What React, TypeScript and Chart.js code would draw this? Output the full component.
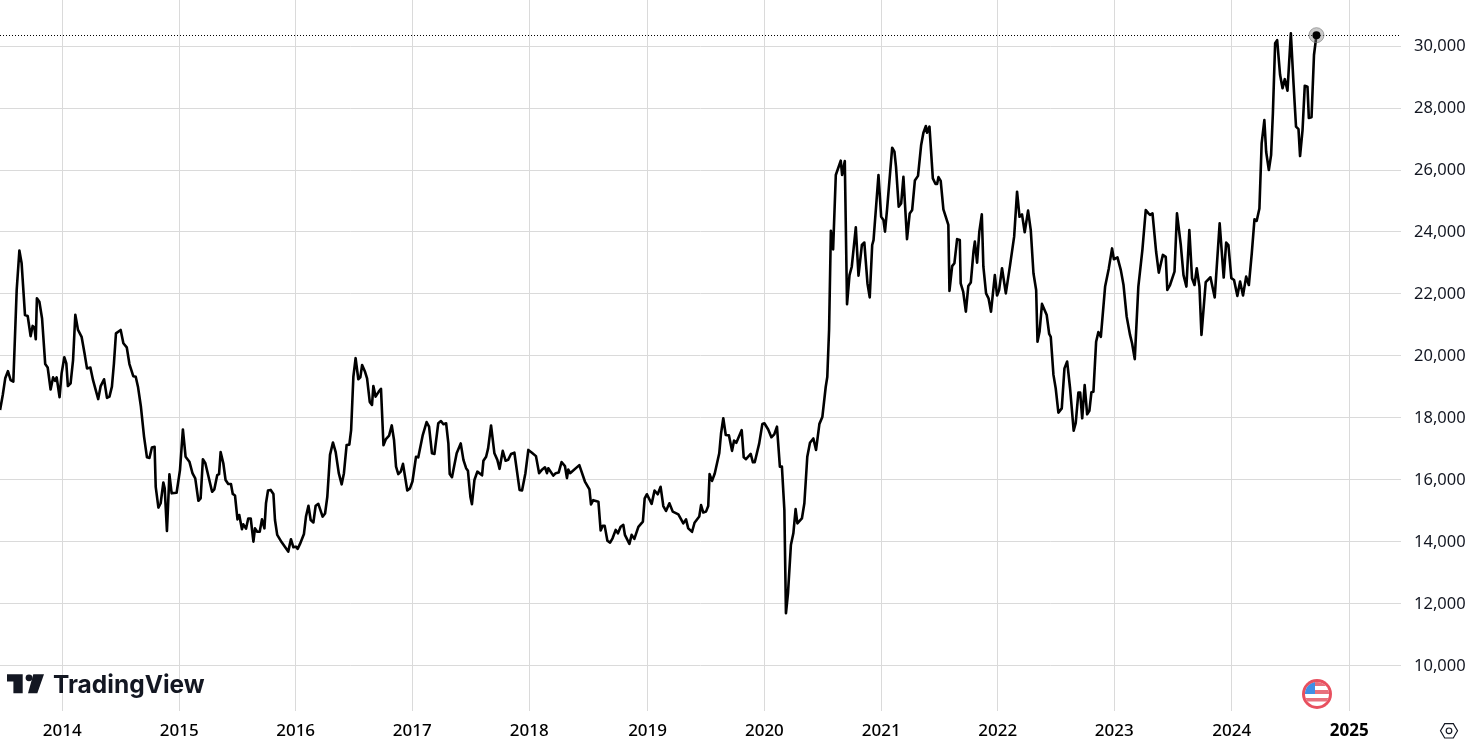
import { useEffect, useRef } from "react"
import { Chart, registerables } from "chart.js"

Chart.register(...registerables)

const bars = [
  0.3, 1.5, 2.6, 3.8, 5.0, 6.2, 7.7, 8.9, 9.9, 11.4, 12.6, 13.9, 14.8, 15.6, 16.2, 16.7, 17.8, 19.0, 20.4, 21.5,
  22.8, 23.9, 24.8, 25.5, 26.8, 27.7, 28.9, 29.8, 30.5, 31.7, 32.8, 33.8, 35.0, 36.6, 37.9, 39.0, 40.5, 41.7, 42.9, 44.0,
  45.1, 46.6, 47.9, 49.0, 50.1, 51.0, 51.9, 54.0, 55.2, 56.7, 57.9, 59.6, 60.7, 61.7, 63.0, 64.4, 65.7, 66.8, 67.9, 69.1,
  69.6, 70.8, 71.8, 73.0, 73.6, 74.6, 75.7, 76.7, 78.9, 80.4, 81.7, 82.9, 84.6, 86.0, 87.2, 88.6, 89.6, 90.6, 91.7, 94.7,
  95.7, 97.0, 97.8, 98.5, 99.7, 100.7, 101.9, 103.1, 103.9, 104.9, 106.0, 106.8, 108.0, 108.6, 109.8, 110.8, 111.9, 113.1, 113.8, 114.8,
  115.9, 116.9, 118.0, 118.7, 119.6, 120.8, 122.0, 122.7, 123.7, 125.7, 128.6, 129.8, 130.9, 132.0, 132.8, 133.8,
  135.6, 136.5, 137.6, 138.6, 139.8, 140.8, 142.0, 143.9, 145.0, 146.0, 147.2, 148.5, 149.7, 151.1, 152.4, 153.4, 154.6, 155.8, 156.6, 157.6,
  158.6, 159.8, 160.7, 161.5, 162.8, 163.7, 164.9, 165.9, 166.5, 167.5, 168.9, 169.9, 171.0, 172.1, 173.5, 174.7, 175.7, 176.6, 177.6, 178.7,
  179.7, 181.6, 182.8, 183.9, 185.5, 186.5, 188.5, 190.2, 191.3, 192.6, 193.7, 195.4, 196.6, 197.7, 198.9, 199.9, 200.5, 201.5, 203.6, 205.4,
  206.6, 207.8, 208.6, 209.7, 210.4, 211.5, 212.8, 214.9, 215.5, 216.7, 217.6, 218.9, 220.4, 221.7, 222.7, 224.1, 225.4, 226.5, 227.8, 229.3,
  231.6, 232.7, 234.2, 235.5, 237.1, 238.9, 240.3, 241.7, 242.9, 243.8, 244.4, 246.6, 247.7, 249.0, 250.3, 251.8, 252.7, 253.3, 254.1, 258.2,
  260.7, 262.7, 263.4, 264.4, 266.7, 267.7, 268.6, 269.5, 270.7, 271.9, 273.0, 274.4, 275.4, 276.6, 277.8, 278.5, 280.5, 281.5, 282.7, 284.5,
  286.5, 287.3, 288.3, 290.4, 291.7, 293.1, 294.4, 295.6, 296.8, 298.3, 299.8, 302.3, 304.5, 305.7, 306.7, 308.4, 309.5, 311.6, 312.4, 313.4,
  314.6, 315.6, 316.2, 317.3, 318.5, 320.5, 321.3, 322.3, 323.4, 324.8, 326.2, 327.1, 328.1, 330.5, 331.4, 332.4, 334.5, 335.5, 336.3, 338.3,
  339.7, 340.6, 342.3, 343.7, 345.0, 346.2, 347.5, 348.4, 349.5, 350.2, 351.1, 352.4, 353.5, 354.5, 355.3, 357.3, 358.4, 359.7, 360.9, 362.4,
  363.6, 365.1, 366.4, 367.9, 368.6,
  369.4, 370.2, 371.2, 372.4, 374.6, 375.2, 376.4, 377.4, 378.5, 379.5, 381.3, 382.5, 384.0, 385.1, 386.5, 387.5, 388.6, 389.2, 391.4, 392.6,
  393.6, 394.3, 395.2, 397.5, 398.5, 399.2, 400.4, 401.5, 402.5, 404.1, 405.3, 406.4, 407.6, 409.0, 410.4, 411.4, 412.5, 413.0, 414.1, 415.6,
  416.8, 417.5, 418.1, 419.1, 420.3, 422.5, 423.0, 424.2, 425.2, 426.4, 427.6, 428.0, 429.1, 430.3, 431.4, 432.5, 433.7, 434.3, 435.3, 436.3,
  437.4, 438.1, 439.3, 440.4, 441.5, 443.2, 444.2, 445.1, 446.4, 448.1, 450.0,
  451.8, 453.1, 454.2, 455.3, 456.5, 458.0, 459.2, 460.4, 461.6, 462.2, 463.1, 464.2, 466.3, 467.4, 468.1, 469.3, 470.3, 471.5, 473.0, 474.2,
  475.4, 476.7, 478.3, 479.2, 480.4, 481.2, 482.1, 483.2, 484.3, 485.3, 486.2, 487.1, 488.3, 489.3, 490.4, 492.3, 493.9, 495.4, 496.2, 497.8,
  499.3, 500.5, 501.9, 503.4, 504.3, 505.5, 507.1, 508.9, 510.4, 511.6, 512.3, 513.4, 515.0, 516.2, 518.0, 519.3, 520.0, 521.2, 523.2, 524.3,
  526.0, 527.2, 528.5, 529.8, 531.0, 532.1, 533.1, 534.3, 535.2, 537.1, 539.2, 541.1, 543.3, 545.1, 546.2, 547.2, 548.5, 549.7, 551.2, 552.4,
  553.7, 555.1, 556.3,
  557.6, 558.8, 559.8, 561.0, 562.0, 563.2, 564.0, 565.2, 566.2, 567.0, 568.0, 568.9, 570.2, 571.3, 572.3, 573.5, 575.0, 576.1, 577.3, 578.4,
  579.1, 580.2, 581.2, 582.4, 583.0, 584.2, 585.3, 586.4,
]

const closes = [
  18260, 18740, 19280, 19510, 19220, 19170, 22130, 23400, 22990, 21320, 21290, 20640, 20970, 20920, 20540, 21860, 21750, 21210, 19740, 19630,
  18920, 19310, 19200, 19310, 18670, 19440, 19960, 19760, 19030, 19120, 19870, 21330, 20840, 20620, 20090, 19600, 19630, 19220, 18900, 18610,
  19030, 19250, 18650, 18690, 19010, 19760, 20730, 20840, 20410, 20280, 19740, 19350, 19330, 19010, 18370, 17400, 16730, 16710, 17050, 17070,
  15780, 15110, 15250, 15920, 15730, 14360, 16180, 15570, 15590, 16320, 17630, 16750, 16590, 16210, 16050, 15330, 15410, 16670, 16540, 15620,
  15700, 16160, 16190, 16900, 16540, 16000, 15870, 15870, 15550, 15500, 14730, 14870, 14410, 14570, 14430, 14760, 14760, 14010, 14440, 14330,
  14330, 14730, 14440, 15250, 15660, 15680, 15550, 14710, 14230, 13990, 13690, 14090, 13830, 13850, 13780, 13930,
  14260, 14820, 15170, 14710, 14630, 15170, 15230, 14820, 14920, 15460, 16810, 17210, 16910, 16220, 15860, 16220, 17130, 17140, 17610, 19330,
  19930, 19250, 19310, 19710, 19490, 19280, 18520, 18420, 19030, 18690, 18850, 18940, 17120, 17320, 17430, 17760, 17290, 16430, 16190, 16270,
  16520, 15660, 15730, 15950, 16750, 16730, 17450, 17870, 17720, 16860, 16840, 17830, 17900, 17800, 17830, 17180, 16190, 16090, 16860, 17180,
  16650, 16380, 16300, 15460, 15220, 16000, 16270, 16150, 16620, 16750, 17020, 17760, 16860, 16650, 16360, 16940, 16620, 16650, 16840, 16880,
  15680, 15660, 16220, 16970, 16880, 16770, 16220, 16340, 16410, 16220, 16380, 16140, 16220, 16240, 16580, 16450, 16060, 16340, 16220, 16480,
  15950, 15700, 15210, 15350, 15300, 14370, 14520, 14520, 14040, 13980, 14120, 14390, 14280, 14490, 14550, 14230, 13940, 14230, 14100, 14490,
  14660, 15410, 15540, 15230, 15660, 15540, 15780, 15160, 15000, 15250, 14980, 14890, 14600, 14730, 14440, 14330, 14620, 14820, 15190, 14950,
  14980, 15160, 16190, 15970, 16210, 16860, 17500, 17990, 17450, 17440, 16940, 17270, 17200, 17610, 16730, 16670, 16840, 16570, 16570, 17180,
  17810, 17830, 17630, 17380, 17470, 17720, 16430, 16430, 15030, 11700, 12340, 13900, 14280, 15060, 14600, 14760, 15250, 16750, 17200, 17340,
  16970, 17810, 18030, 19000, 19320,
  20840, 24040, 23440, 25840, 26300, 25840, 26290, 21670, 22610, 22880, 24150, 22590, 23580, 23660, 22340, 21890, 23580, 23740, 25840, 24490,
  24390, 24010, 24710, 26720, 26590, 26110, 24820, 24920, 25780, 23770, 24600, 24710, 25660, 25810, 26810, 27200, 27420, 27200, 27400, 25730,
  25550, 25550, 25770, 25650, 24730, 24230, 22100, 22900, 22990, 23770, 23740, 22340, 22080, 21430, 22260, 22370, 23370, 23690, 23010, 24010,
  24570, 22880, 22020, 21860, 21430, 22610, 21950, 22130, 22830, 22020, 22940,
  23850, 25300, 24490, 24570, 23990, 24690, 24060, 22670, 22130, 20460, 20780, 21680, 21320, 20710, 20620, 19390, 18960, 18170, 18310, 19600,
  19820, 18960, 17590, 17830, 18820, 18820, 17990, 19060, 18120, 18230, 18830, 18850, 20460, 20770, 20620, 22240, 22810, 23470, 23120, 23180,
  22770, 22290, 21270, 20680, 20410, 19900, 22240, 23420, 24710, 24600, 24550, 24600, 23370, 22690, 23260, 23200, 22130, 22290, 22720, 24600,
  23580, 22610, 22240, 24060, 22510, 22290, 22830, 22240, 20680, 22380, 22540, 21890, 24280, 22530, 23660, 23580, 22510, 22450, 21940, 22400,
  21950, 22560, 22290,
  23310, 24410, 24360, 24760, 26860, 27610, 26590, 26000, 26480, 27830, 30090, 30190, 29070, 28640, 28930, 28560, 30410, 28900, 27400, 27320,
  26450, 27290, 28720, 28690, 27680, 27700, 29710, 30350,
]

const yearLabels = ["2014", "2015", "2016", "2017", "2018", "2019", "2020", "2021", "2022", "2023", "2024", "2025"]
const yearBars = [28.0, 80.1, 131.9, 183.8, 235.9, 288.6, 340.6, 392.6, 444.5, 496.4, 548.7, 601.0]
const priceTicks = [10000, 12000, 14000, 16000, 18000, 20000, 22000, 24000, 26000, 28000, 30000]

const GRID = "#dadada"
const TEXT = "#131722"

// last price line and the dot on the last close
const lastPricePlugin = {
  id: "lastPrice",
  afterDatasetsDraw(chart: Chart) {
    const { ctx, chartArea, scales } = chart
    const x = scales.x.getPixelForValue(bars[bars.length - 1])
    const y = scales.y.getPixelForValue(closes[closes.length - 1])
    ctx.save()
    ctx.strokeStyle = "#000"
    ctx.lineWidth = 1
    ctx.setLineDash([1, 2])
    ctx.beginPath()
    ctx.moveTo(chartArea.left, Math.round(y) + 0.5)
    ctx.lineTo(chartArea.right, Math.round(y) + 0.5)
    ctx.stroke()
    ctx.setLineDash([])
    ctx.fillStyle = "rgba(120,120,120,0.4)"
    ctx.strokeStyle = "rgba(120,120,120,0.6)"
    ctx.beginPath()
    ctx.arc(x, y, 7.5, 0, Math.PI * 2)
    ctx.fill()
    ctx.stroke()
    ctx.fillStyle = "#000"
    ctx.beginPath()
    ctx.arc(x, y, 4, 0, Math.PI * 2)
    ctx.fill()
    ctx.restore()
  },
}

// logo, flag and settings icon
const brandPlugin = {
  id: "brand",
  afterDraw(chart: Chart) {
    const { ctx } = chart
    ctx.save()

    ctx.fillStyle = TEXT
    ctx.beginPath()
    ctx.moveTo(7, 674.3)
    ctx.lineTo(22.7, 674.3)
    ctx.lineTo(22.7, 693.3)
    ctx.lineTo(13.4, 693.3)
    ctx.lineTo(13.4, 681.6)
    ctx.lineTo(7, 681.6)
    ctx.closePath()
    ctx.fill()
    ctx.beginPath()
    ctx.arc(29, 677.8, 3.4, 0, Math.PI * 2)
    ctx.fill()
    ctx.beginPath()
    ctx.moveTo(33.3, 674.3)
    ctx.lineTo(44, 674.3)
    ctx.lineTo(37.3, 693.3)
    ctx.lineTo(28, 693.3)
    ctx.closePath()
    ctx.fill()
    ctx.font = "700 24.5px Inter"
    ctx.textBaseline = "alphabetic"
    ctx.textAlign = "left"
    ctx.fillText("TradingView", 53, 693.3)

    // flag
    const fx = 1317
    const fy = 694
    ctx.fillStyle = "#e8505f"
    ctx.beginPath()
    ctx.arc(fx, fy, 15, 0, Math.PI * 2)
    ctx.fill()
    ctx.fillStyle = "#fff"
    ctx.beginPath()
    ctx.arc(fx, fy, 12, 0, Math.PI * 2)
    ctx.fill()
    ctx.save()
    ctx.beginPath()
    ctx.arc(fx, fy, 12, 0, Math.PI * 2)
    ctx.clip()
    ctx.fillStyle = "#e8707c"
    ctx.fillRect(fx - 12, fy - 12, 24, 4)
    ctx.fillRect(fx - 3, fy - 4, 15, 4)
    ctx.fillRect(fx - 12, fy + 4, 24, 3.5)
    ctx.fillStyle = "#3f8fe6"
    ctx.fillRect(fx - 12, fy - 12, 10, 12)
    ctx.restore()

    // settings hexagon
    const hx = 1449
    const hy = 730.8
    ctx.strokeStyle = TEXT
    ctx.lineWidth = 1.2
    ctx.beginPath()
    ctx.moveTo(hx - 8.5, hy)
    ctx.lineTo(hx - 4.3, hy - 7.2)
    ctx.lineTo(hx + 4.3, hy - 7.2)
    ctx.lineTo(hx + 8.5, hy)
    ctx.lineTo(hx + 4.3, hy + 7.2)
    ctx.lineTo(hx - 4.3, hy + 7.2)
    ctx.closePath()
    ctx.stroke()
    ctx.beginPath()
    ctx.arc(hx, hy, 2.8, 0, Math.PI * 2)
    ctx.stroke()
    ctx.restore()
  },
}

export default function App() {
  const chartRef = useRef<HTMLCanvasElement>(null)

  useEffect(() => {
    document.body.style.margin = "0"
    if (!chartRef.current) return
    const chart = new Chart(chartRef.current, {
      type: "line",
      data: {
        datasets: [
          {
            data: bars.map((b, i) => ({ x: b, y: closes[i] })),
            borderColor: "#000",
            borderWidth: 2.6,
            borderJoinStyle: "round",
            pointRadius: 0,
            tension: 0,
          },
        ],
      },
      options: {
        responsive: false,
        animation: false,
        devicePixelRatio: 1,
        layout: { padding: 0 },
        plugins: { legend: { display: false }, tooltip: { enabled: false } },
        scales: {
          x: {
            type: "linear",
            min: 0.27,
            max: 624.04,
            grid: { color: GRID, drawTicks: false },
            border: { display: false },
            afterBuildTicks: (scale: any) => {
              scale.ticks = yearBars.map((value) => ({ value }))
            },
            afterFit: (scale: any) => {
              scale.height = 35
            },
            ticks: {
              autoSkip: false,
              maxRotation: 0,
              padding: 10,
              color: "#000",
              font: (ctx: any) => ({
                family: "Noto Sans",
                size: 17,
                weight: ctx.index === yearLabels.length - 1 ? "700" : "500",
              }),
              callback: (_v: any, i: number) => yearLabels[i],
            },
          },
          y: {
            position: "right",
            min: 8548,
            max: 31484,
            grid: { color: GRID, drawTicks: false },
            border: { display: false },
            afterBuildTicks: (scale: any) => {
              scale.ticks = priceTicks.map((value) => ({ value }))
            },
            afterFit: (scale: any) => {
              scale.width = 65
              scale.paddingTop = 0
              scale.paddingBottom = 0
            },
            ticks: {
              padding: 13,
              color: TEXT,
              font: { family: "Noto Sans", size: 16.5 },
              callback: (v: any) => Number(v).toLocaleString("en-US"),
            },
          },
        },
      },
      plugins: [lastPricePlugin, brandPlugin],
    })
    return () => chart.destroy()
  }, [])

  return <canvas ref={chartRef} width={1466} height={746} style={{ display: "block" }} />
}
